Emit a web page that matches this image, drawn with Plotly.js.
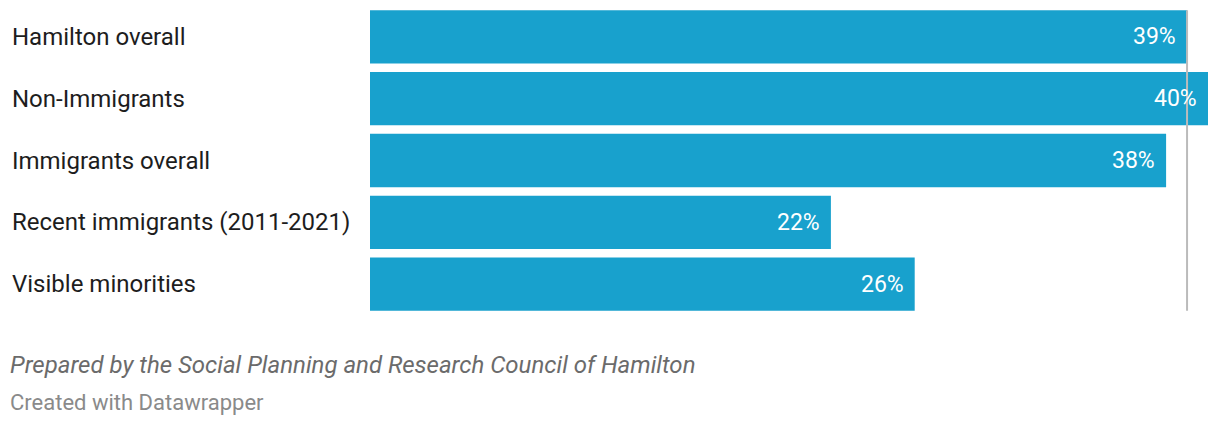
<!DOCTYPE html>
<html>
<head>
<meta charset="utf-8">
<script src="https://cdn.plot.ly/plotly-3.0.1.min.js"></script>
<style>
html,body{margin:0;padding:0;background:#fff;}
#chart{width:1220px;height:426px;}
</style>
</head>
<body>
<div id="chart"></div>
<script>
const categories = ["Hamilton overall", "Non-Immigrants", "Immigrants overall", "Recent immigrants (2011-2021)", "Visible minorities"];
const values = [39, 40, 38, 22, 26];
const valueLabels = ["39%", "40%", "38%", "22%", "26%"];
const referenceValue = 39;
const sourceText = "Prepared by the Social Planning and Research Council of Hamilton";
const creditText = "Created with Datawrapper";

const barColor = "#18a1cd";
const gap = 0.137;

const annotations = [];
categories.forEach((c, i) => {
  annotations.push({
    xref: "paper", yref: "y", x: 0, y: c, xshift: -360,
    xanchor: "left", yanchor: "middle", text: c, showarrow: false,
    font: {family: "Roboto", size: 24, color: "#1d1d1d"}
  });
  annotations.push({
    xref: "x", yref: "y", x: values[i], y: c, xshift: -9,
    xanchor: "right", yanchor: "middle", text: valueLabels[i], showarrow: false,
    font: {family: "Roboto", size: 23, color: "#ffffff"}
  });
});
annotations.push({
  xref: "paper", yref: "paper", x: 0, xshift: -362, y: 0, yshift: -50,
  xanchor: "left", yanchor: "middle", text: "<i>" + sourceText + "</i>", showarrow: false,
  font: {family: "Roboto", size: 24, color: "#6b6b6b"}
});
annotations.push({
  xref: "paper", yref: "paper", x: 0, xshift: -362, y: 0, yshift: -87,
  xanchor: "left", yanchor: "middle", text: creditText, showarrow: false,
  font: {family: "Roboto", size: 22, color: "#8a8a8a"}
});

const data = [{
  type: "bar", orientation: "h",
  y: categories, x: values,
  marker: {color: barColor},
  hoverinfo: "none"
}];

const layout = {
  width: 1220, height: 426,
  margin: {l: 370, r: 12, t: 5.5, b: 110.5, pad: 0},
  paper_bgcolor: "#fff", plot_bgcolor: "#fff",
  bargap: gap,
  showlegend: false,
  xaxis: {range: [0, 40], visible: false, fixedrange: true},
  yaxis: {type: "category", autorange: "reversed", visible: false, fixedrange: true},
  shapes: [{
    type: "line", xref: "x", yref: "y",
    x0: referenceValue, x1: referenceValue,
    y0: -0.5 + gap / 2, y1: categories.length - 0.5 - gap / 2,
    line: {color: "#bbbbbb", width: 2},
    layer: "above"
  }],
  annotations: annotations
};

Plotly.newPlot("chart", data, layout, {displayModeBar: false, staticPlot: true});
</script>
</body>
</html>
